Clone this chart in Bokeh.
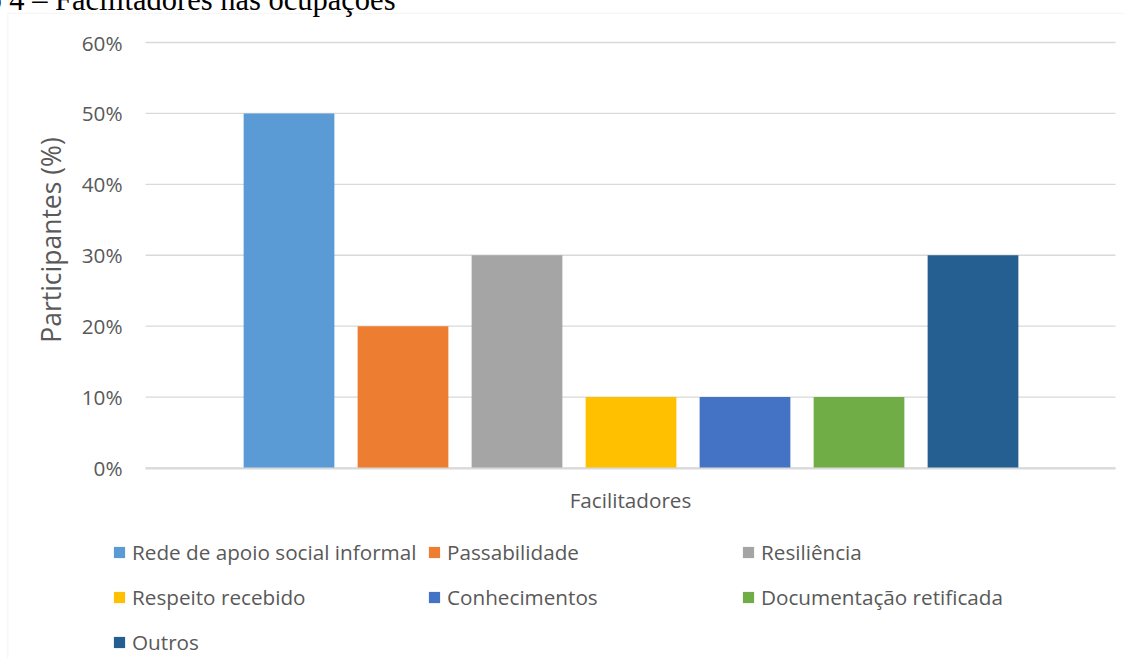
from bokeh.plotting import figure
from bokeh.models import (ColumnDataSource, Legend, LegendItem, Label, BoxAnnotation,
                          FixedTicker, PrintfTickFormatter, Range1d, LinearAxis)
from bokeh.embed import file_html
from bokeh.resources import INLINE

categories = ["Rede de apoio social informal", "Passabilidade", "Resiliência",
              "Respeito recebido", "Conhecimentos", "Documentação retificada", "Outros"]
values = [50, 20, 30, 10, 10, 10, 30]
colors = ["#5B9BD5", "#ED7D31", "#A5A5A5", "#FFC000", "#4472C4", "#70AD47", "#255E91"]
y_ticks = [0, 10, 20, 30, 40, 50, 60]
title_text = "Gráfico 4 – Facilitadores nas ocupações"
x_title = "Facilitadores"
y_title = "Participantes (%)"

FONT = "Open Sans"
FS = "20.7px"
GRAY = "#595959"
LINE = "#D9D9D9"

W, H = 1132, 666
X0, X1 = -0.2588, 8.25          # plot-area extent in data units
positions = list(range(1, len(categories) + 1))
src = ColumnDataSource(dict(x=positions, top=values, color=colors, name=categories))
grid_src = ColumnDataSource(dict(y=y_ticks, x0=[X0] * len(y_ticks), x1=[X1] * len(y_ticks)))

p = figure(width=W, height=H, output_backend="svg", toolbar_location=None,
           x_range=Range1d(-1.6009, 8.3289), y_range=Range1d(-26.862, 67.0505),
           x_axis_type=None, y_axis_type=None,
           min_border=0, min_border_left=0, min_border_right=0,
           min_border_top=0, min_border_bottom=0)
p.margin = (-8, 0, 0, -8)
p.outline_line_color = None
p.grid.visible = False

# horizontal gridlines at the tick values
p.segment(x0="x0", x1="x1", y0="y", y1="y", source=grid_src,
          line_color=LINE, line_width=1.3)

r = p.vbar(x="x", top="top", width=0.796, fill_color="color", line_color=None, source=src)

yaxis = LinearAxis(fixed_location=X0, bounds=(0, 64.4),
                   ticker=FixedTicker(ticks=y_ticks),
                   formatter=PrintfTickFormatter(format="%d%%"),
                   axis_line_color=None, major_tick_line_color=None,
                   minor_tick_line_color=None, major_tick_out=0, major_tick_in=0,
                   major_label_text_font=FONT, major_label_text_font_size=FS,
                   major_label_text_color=GRAY, major_label_standoff=23,
                   axis_label=y_title, axis_label_text_font=FONT,
                   axis_label_text_font_size="26.5px", axis_label_text_font_style="normal",
                   axis_label_text_color=GRAY, axis_label_standoff=10)
p.add_layout(yaxis, "left")

xaxis = LinearAxis(fixed_location=0, bounds=(X0, X1),
                   ticker=FixedTicker(ticks=[]),
                   axis_line_color=LINE, axis_line_width=1.8,
                   major_tick_line_color=None, minor_tick_line_color=None,
                   major_tick_out=0, major_tick_in=0, major_label_standoff=0,
                   major_label_text_font_size="0px",
                   axis_label=x_title, axis_label_text_font=FONT,
                   axis_label_text_font_size=FS, axis_label_text_font_style="normal",
                   axis_label_text_color=GRAY, axis_label_standoff=17)
p.add_layout(xaxis, "below")

# chart border (top and left edges visible)
p.add_layout(BoxAnnotation(left=15.3, right=1400, top=H - 20.8, bottom=-200,
                           left_units="screen", right_units="screen",
                           top_units="screen", bottom_units="screen",
                           fill_color=None, line_color=LINE, line_width=1))

# caption above the chart, cropped by the top edge as in the original
p.add_layout(Label(x=403, y=H - 7, x_units="screen", y_units="screen", text=title_text,
                   text_font="Liberation Serif", text_font_size="30.5px", text_color="black",
                   text_align="right", text_baseline="alphabetic"))

ROW_H = 28
SPACING = 17
top_row_top = 560 - ROW_H / 2
cols = [[0, 3, 6], [1, 4], [2, 5]]
col_x = [120, 435, 749]
for idx_list, cx in zip(cols, col_x):
    items = [LegendItem(label=categories[i], renderers=[r], index=i) for i in idx_list]
    n = len(idx_list)
    height = n * ROW_H + (n - 1) * SPACING
    leg = Legend(items=items, location=(cx, H - (top_row_top + height)),
                 orientation="vertical", padding=0, margin=0, spacing=SPACING,
                 glyph_width=14, glyph_height=14, label_height=ROW_H, label_standoff=6,
                 border_line_color=None, background_fill_alpha=0,
                 label_text_font=FONT, label_text_font_size=FS, label_text_color=GRAY)
    p.add_layout(leg, "center")

open("out.html", "w").write(file_html(p, INLINE))
